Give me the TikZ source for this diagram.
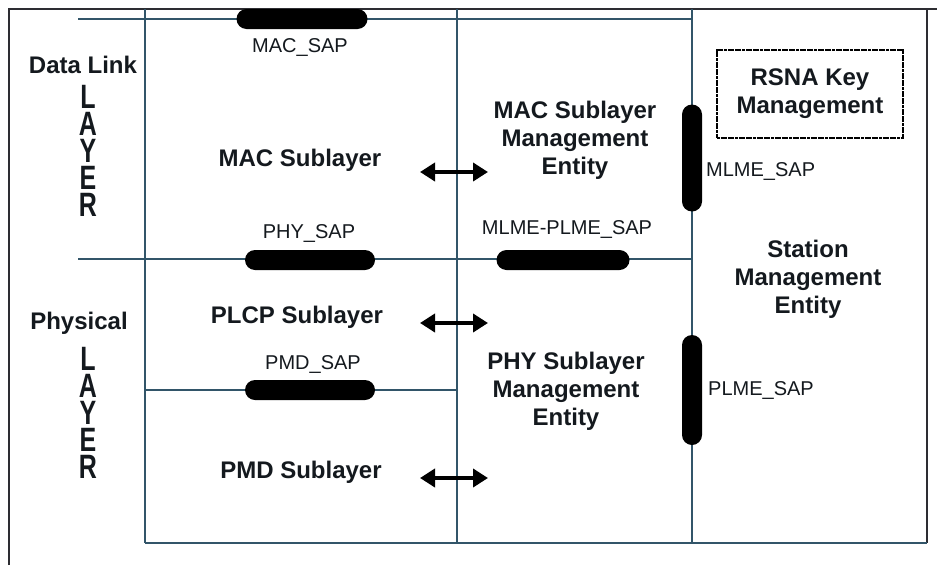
\documentclass[tikz,border=0pt]{standalone}
\usepackage{fontspec}
\setmainfont{Liberation Sans}
\usetikzlibrary{arrows.meta,shapes.misc}
\definecolor{gridline}{RGB}{50,85,105}
\definecolor{frameline}{RGB}{45,45,50}
\definecolor{ink}{RGB}{20,25,30}
\begin{document}
\begin{tikzpicture}[x=1pt,y=-1pt,
  title/.style={font=\fontsize{24}{28}\selectfont\bfseries, text=ink, align=center, inner sep=0pt},
  saplabel/.style={font=\fontsize{20}{24}\selectfont, text=ink, inner sep=0pt},
  sapbar/.style={rounded rectangle, fill=black, draw=none, minimum height=20pt, inner sep=0pt},
  gridln/.style={draw=gridline, line width=1.2pt},
  frameln/.style={draw=frameline, line width=1.5pt},
  dualarrow/.style={{Triangle[length=15pt,width=18pt]}-{Triangle[length=15pt,width=18pt]}, line width=4pt, draw=black},
  layerword/.style={font=\fontsize{25}{20}\selectfont\bfseries, text=ink, align=center, yscale=1.35, transform shape, inner sep=0pt},
  keybox/.style={draw=black, line width=2.4pt, dash pattern=on 3pt off 0.6pt}
]
\useasboundingbox (0,0) rectangle (937,565);
\fill[white] (0,0) rectangle (937,565);

% outer frame
\draw[frameln] (9,565) -- (9,9) -- (937,9);
\draw[frameln] (927,9) -- (927,543);

% layer grid
\draw[gridln] (78,19) -- (692,19);
\draw[gridln] (78,259) -- (692,259);
\draw[gridln] (145,390) -- (457,390);
\draw[gridln] (145,543) -- (927,543);
\draw[gridln] (145,9) -- (145,543);
\draw[gridln] (457,9) -- (457,543);
\draw[gridln] (692,9) -- (692,543);

% service access points
\node[sapbar, minimum width=131pt] (macsapbar) at (302,19) {};
\node[sapbar, minimum width=130pt] (physapbar) at (310,260) {};
\node[sapbar, minimum width=133pt] (mlmeplmebar) at (563,260) {};
\node[sapbar, minimum width=130pt] (pmdsapbar) at (310,390) {};
\node[sapbar, minimum width=107pt, rotate=90] (mlmesapbar) at (692,158) {};
\node[sapbar, minimum width=110pt, rotate=90] (plmesapbar) at (692,390) {};

\node[saplabel] (macsap) at (300,48) {MAC\_SAP};
\node[saplabel] (physap) at (309,234) {PHY\_SAP};
\node[saplabel] (mlmeplme) at (567,230) {MLME-PLME\_SAP};
\node[saplabel] (pmdsap) at (313,364) {PMD\_SAP};
\node[saplabel, anchor=west] (mlmesap) at (706,172) {MLME\_SAP};
\node[saplabel, anchor=west] (plmesap) at (708,390) {PLME\_SAP};

% layer names on the left
\node[title] (datalink) at (83,65) {Data Link};
\begin{scope}[shift={(88,151)}]
  \node[layerword] (layerdl) at (0,0) {L\\A\\Y\\E\\R};
\end{scope}
\node[title] (physical) at (79,323) {Physical};
\begin{scope}[shift={(88,413)}]
  \node[layerword] (layerphy) at (0,0) {L\\A\\Y\\E\\R};
\end{scope}

% sublayers
\node[title] (macsub) at (300,160) {MAC Sublayer};
\node[title] (plcpsub) at (297,317) {PLCP Sublayer};
\node[title] (pmdsub) at (301,472) {PMD Sublayer};

% management entities
\node[title] (mlme) at (575,140) {MAC Sublayer\\Management\\Entity};
\node[title] (plme) at (566,391) {PHY Sublayer\\Management\\Entity};
\node[title] (sme) at (808,279) {Station\\Management\\Entity};

\node[keybox, minimum width=186pt, minimum height=88pt] (rsnabox) at (810,94) {};
\node[title] (rsna) at (rsnabox.center) {RSNA Key\\Management};

% sublayer <-> management arrows
\coordinate (macl) at (420,172);
\coordinate (macr) at (488,172);
\coordinate (plcpl) at (420,323);
\coordinate (plcpr) at (488,323);
\coordinate (pmdl) at (420,478);
\coordinate (pmdr) at (488,478);
\draw[dualarrow] (macl) -- (macr);
\draw[dualarrow] (plcpl) -- (plcpr);
\draw[dualarrow] (pmdl) -- (pmdr);
\end{tikzpicture}
\end{document}
